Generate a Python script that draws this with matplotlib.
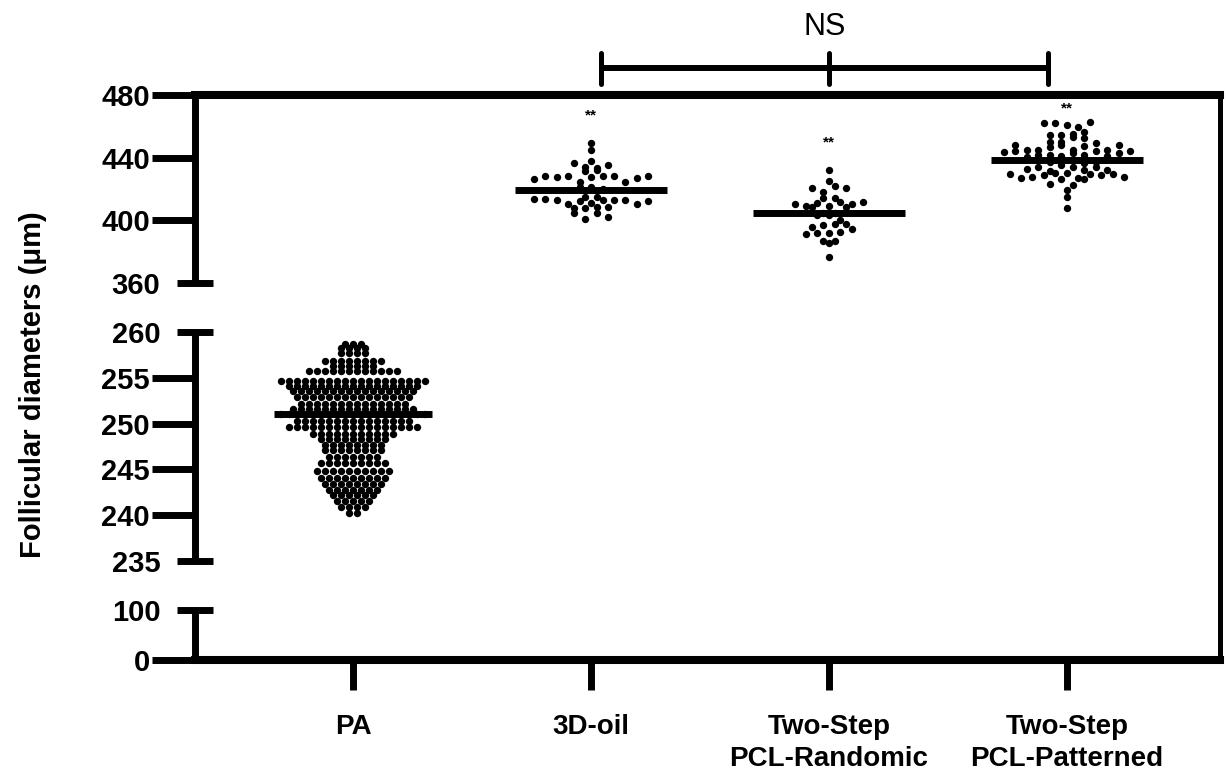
# Follicular diameters per scaffold type, dot plot with broken y axis

import numpy as np
import matplotlib.pyplot as plt
from matplotlib.ticker import FixedLocator, FixedFormatter

plt.rcParams['font.family'] = ['Liberation Sans', 'DejaVu Sans']
plt.rcParams['font.weight'] = 'bold'

# Data
groups = ['PA', '3D-oil', 'Two-Step\nPCL-Randomic', 'Two-Step\nPCL-Patterned']
means = [251.1, 419.4, 404.9, 438.5]
stars = ['', '**', '**', '**']
star_y = [0, 467.2, 449.4, 471.5]

# PA: dots sit in rows, value of each row and number of dots in it
pa_levels = [258.7, 258.3, 257.75, 256.85, 256.3, 255.7, 254.7, 254.1, 253.6, 252.9,
             252.1, 251.6, 251.05, 250.3, 249.6, 248.9, 248.3, 247.7, 247.1, 246.4,
             245.7, 244.8, 244.1, 243.4, 242.7, 242.2, 241.55, 240.9, 240.2]
pa_counts = [3, 4, 4, 8, 6, 12, 19, 17, 16, 15,
             14, 16, 19, 15, 17, 11, 9, 8, 8, 7,
             9, 10, 9, 8, 7, 6, 5, 4, 2]

oil_values = [431.5, 426.3, 413.5,
              428.3, 413.5, 408.1,
              436.8, 432.1, 427.9, 415.1, 413.0, 410.4,
              434.3, 428.3, 424.7, 415.1, 412.6, 410.9, 407.7, 404.5, 400.9,
              449.6, 444.9, 433.2, 427.9, 421.1, 413.0, 408.5, 404.5,
              438.1, 428.3, 421.1, 419.9, 413.0, 402.4,
              435.5, 428.3, 424.7, 413.0, 408.3,
              426.8, 410.4,
              428.3, 412.6]

randomic_values = [414.1, 410.4,
                   408.3, 404.9, 403.4, 395.6,
                   420.5, 414.1, 409.2, 404.9, 397.0, 391.1,
                   418.3, 410.9, 397.7, 391.8, 387.0,
                   432.1, 425.3, 376.4,
                   422.0, 409.2, 403.4, 397.7, 392.1, 385.4,
                   420.5, 411.9, 400.2, 392.8, 387.0,
                   410.4, 394.4,
                   411.9, 408.3]

patterned_values = [448.1, 443.8, 438.5, 429.6,
                    444.5, 440.6, 437.4, 432.6, 426.8,
                    441.7, 438.5, 427.5,
                    454.5, 450.2, 444.9, 441.7, 438.5, 428.9, 423.2,
                    461.9, 454.5, 450.2, 444.9, 441.1, 433.9, 430.4,
                    461.9, 447.0, 443.2, 431.7, 426.3, 419.4, 415.0, 408.0,
                    460.9, 455.1, 448.1, 444.9, 441.7, 435.3, 430.0, 426.8, 422.6,
                    459.4, 453.4, 447.5, 444.5, 433.9, 429.6, 426.2,
                    463.0, 456.6, 452.4, 436.4, 432.1,
                    449.2, 444.9, 441.1, 428.9,
                    443.0, 437.4, 433.9, 429.6,
                    448.1, 444.5, 432.1, 427.9]

# y axis pieces: (low, high, labelled ticks, end caps)
segments = [(0, 100, [0], [100]),
            (235, 260, [240, 245, 250, 255], [235, 260]),
            (360, 480, [400, 440, 480], [360])]


def swarm_offsets(values, bin_h, dx):
    # spread dots of similar value sideways, like a Prism scatter dot plot
    v = np.asarray(values, float)
    b = np.floor((v - v.min()) / bin_h).astype(int)
    off = np.zeros(len(v))
    for k in np.unique(b):
        idx = np.where(b == k)[0]
        off[idx] = (np.arange(len(idx)) - (len(idx) - 1) / 2) * dx
    return off


W, H = 1226, 779
fig = plt.figure(figsize=(W / 100, H / 100), dpi=100)

left = 195 / W
width = 1220 / W - left
xlim = (-0.664, 3.643)

# pixel rows (top, bottom) of each piece
seg_px = [(610, 660), (332, 561), (95, 283)]

# background frame: top line, right border, category axis
ax_bg = fig.add_axes([left, 1 - 660 / H, width, (660 - 95) / H])
ax_bg.set_xlim(xlim)
ax_bg.set_ylim(0, 1)
ax_bg.spines['left'].set_visible(False)
ax_bg.spines['top'].set_linewidth(5.8)
ax_bg.spines['bottom'].set_linewidth(5.8)
ax_bg.spines['right'].set_linewidth(3.6)
ax_bg.set_yticks([])
ax_bg.set_xticks(range(len(groups)))
ax_bg.set_xticklabels(groups, linespacing=1.3)
ax_bg.tick_params(axis='x', direction='out', length=21.6, width=5, pad=17, labelsize=20)

axes = []
for (lo, hi, major, minor), (top_px, bot_px) in zip(segments, seg_px):
    ax = fig.add_axes([left, 1 - bot_px / H, width, (bot_px - top_px) / H])
    ax.patch.set_visible(False)
    ax.set_xlim(xlim)
    ax.set_ylim(lo, hi)
    for s in ['top', 'right', 'bottom']:
        ax.spines[s].set_visible(False)
    ax.spines['left'].set_linewidth(5)
    ax.spines['left'].set_capstyle('butt')
    ax.set_xticks([])
    ax.yaxis.set_major_locator(FixedLocator(major))
    ax.yaxis.set_major_formatter(FixedFormatter([str(m) for m in major]))
    ax.yaxis.set_minor_locator(FixedLocator(minor))
    ax.yaxis.set_minor_formatter(FixedFormatter([str(m) for m in minor]))
    ax.tick_params(axis='y', which='major', direction='out', length=31, width=5, pad=1.5, labelsize=21)
    ax.tick_params(axis='y', which='minor', direction='inout', length=26, width=5, pad=12, labelsize=21)
    axes.append(ax)

ax_low, ax_mid, ax_top = axes

# PA dots in the middle piece
pa_values = np.repeat(pa_levels, pa_counts)
ax_mid.scatter(0 + swarm_offsets(pa_values, 0.3, 0.0336), pa_values,
               s=28, color='black', linewidths=0, zorder=3)
ax_mid.hlines(means[0], -0.33, 0.33, color='black', lw=5, zorder=4)

# other groups in the top piece
for i, vals in zip([1, 2, 3], [oil_values, randomic_values, patterned_values]):
    ax_top.scatter(i + swarm_offsets(vals, 4.6, 0.0483), vals,
                   s=28, color='black', linewidths=0, zorder=3)
    ax_top.hlines(means[i], i - 0.32, i + 0.32, color='black', lw=5, zorder=4)
    ax_top.text(i, star_y[i], stars[i], ha='center', va='center', fontsize=11)

# NS bracket above the plot
ax_top.plot([1.04, 2.92], [497.2, 497.2], color='black', lw=4.3, clip_on=False,
            solid_capstyle='butt')
ax_top.vlines([1.04, 2.0, 2.92], 487.3, 507.1, color='black', lw=3.6, clip_on=False,
              capstyle='round')
ax_top.text(1.98, 523.4, 'NS', ha='center', va='center', fontsize=22,
            fontweight='normal', clip_on=False)

fig.text(33 / W, 1 - 385 / H, 'Follicular diameters (\u03bcm)', rotation=90,
         ha='center', va='center', fontsize=21)

fig.savefig('out.png', dpi=100)
